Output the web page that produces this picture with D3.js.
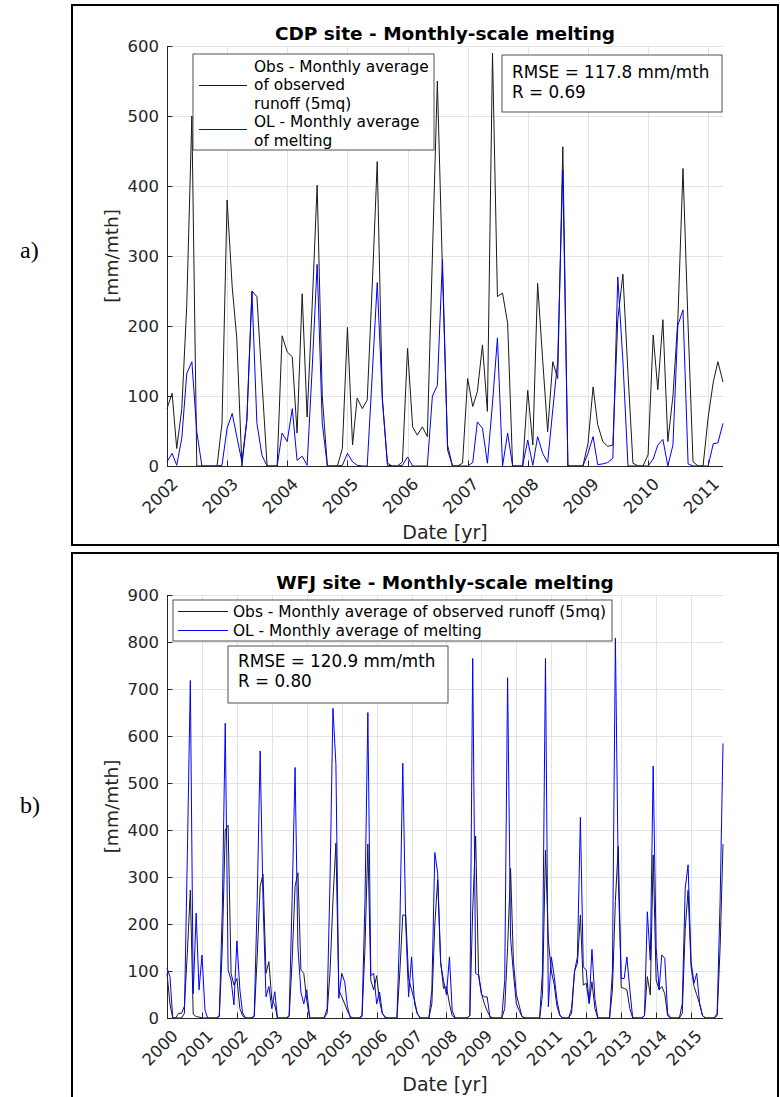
<!DOCTYPE html>
<html>
<head>
<meta charset="utf-8">
<script src="https://cdn.jsdelivr.net/npm/d3@7"></script>
<style>
  body { margin: 0; background: #fff; }
  svg text { font-family: "DejaVu Sans", sans-serif; fill: #262626; }
</style>
</head>
<body>
<svg id="fig" width="780" height="1097"></svg>
<script>
// ---- CDP site: monthly values, first month Jan 2002 (mm/mth) ----
const cdpStart = "2002-01";
const cdpObs = [
  82, 104, 25, 82, 230, 500, 0, 0, 0, 0, 0, 61,
  380, 256, 182, 0, 65, 250, 242, 120, 0, 0, 0, 186,
  163, 156, 47, 246, 70, 230, 401, 100, 0, 0, 0, 25,
  198, 30, 97, 82, 94, 260, 435, 94, 4, 0, 0, 6,
  168, 56, 44, 56, 42, 300, 550, 280, 30, 0, 0, 4,
  125, 85, 106, 173, 78, 590, 242, 247, 204, 0, 0, 0,
  108, 30, 261, 151, 49, 149, 125, 456, 0, 0, 0, 0,
  32, 113, 59, 35, 28, 30, 209, 274, 132, 4, 0, 0,
  16, 187, 109, 209, 35, 100, 210, 425, 200, 6, 0, 0,
  70, 120, 149, 120
];
const cdpOL = [
  6, 18, 1, 40, 132, 149, 49, 0, 0, 0, 0, 1,
  54, 75, 42, 6, 66, 249, 61, 15, 0, 0, 0, 47,
  35, 82, 8, 14, 1, 140, 288, 61, 0, 0, 0, 1,
  18, 6, 1, 0, 0, 132, 262, 97, 1, 0, 0, 1,
  13, 0, 0, 0, 0, 100, 115, 295, 23, 0, 0, 0,
  0, 5, 63, 54, 4, 90, 183, 0, 47, 0, 0, 0,
  37, 1, 42, 18, 5, 80, 150, 423, 0, 0, 0, 0,
  18, 42, 2, 3, 5, 11, 270, 150, 0, 0, 0, 0,
  0, 10, 30, 38, 0, 30, 201, 223, 3, 0, 0, 0,
  0, 32, 33, 61
];
const cdpYTicks = [0, 100, 200, 300, 400, 500, 600];
const cdpStats = ["RMSE = 117.8 mm/mth", "R = 0.69"];

// ---- WFJ site: monthly values, first month Jan 2000 (mm/mth) ----
const wfjStart = "2000-01";
const wfjObs = [
  95, 30, 0, 0, 10, 10, 25, 140, 272, 8, 3, 2,
  0, 0, 0, 0, 0, 0, 3, 150, 400, 410, 95, 70,
  84, 20, 5, 0, 0, 0, 3, 130, 280, 306, 95, 120,
  38, 28, 0, 0, 0, 0, 3, 120, 280, 309, 102, 95,
  38, 0, 0, 0, 0, 0, 0, 10, 100, 250, 372, 60,
  45, 30, 15, 3, 0, 0, 0, 3, 150, 370, 80, 60,
  90, 35, 10, 2, 0, 0, 0, 0, 100, 219, 219, 84,
  60, 38, 10, 0, 0, 0, 0, 30, 200, 294, 120, 63,
  67, 30, 5, 0, 0, 0, 0, 0, 5, 230, 387, 95,
  52, 30, 15, 3, 0, 0, 0, 0, 20, 150, 318, 120,
  50, 25, 3, 0, 0, 0, 0, 0, 0, 50, 357, 166,
  100, 70, 25, 5, 0, 0, 0, 10, 100, 116, 219, 70,
  74, 31, 77, 20, 0, 0, 0, 0, 0, 60, 250, 365,
  65, 63, 60, 20, 0, 0, 0, 0, 5, 88, 49, 347,
  81, 60, 67, 52, 5, 0, 0, 0, 0, 10, 190, 272,
  109, 67, 50, 30, 5, 0, 0, 0, 0, 5, 150, 370
];
const wfjOL = [
  106, 88, 0, 0, 0, 0, 10, 350, 718, 52, 223, 60,
  134, 17, 0, 0, 0, 0, 5, 230, 627, 102, 81, 28,
  164, 60, 11, 0, 0, 0, 5, 250, 568, 250, 45, 67,
  20, 56, 0, 0, 0, 0, 5, 250, 533, 150, 55, 30,
  60, 0, 0, 0, 0, 0, 0, 20, 300, 659, 540, 42,
  95, 77, 25, 0, 0, 0, 0, 5, 250, 650, 90, 95,
  30, 55, 10, 0, 0, 0, 0, 0, 200, 542, 200, 45,
  130, 30, 10, 0, 0, 0, 0, 60, 352, 308, 116, 80,
  49, 130, 15, 0, 0, 0, 0, 0, 5, 765, 95, 91,
  50, 45, 45, 0, 0, 0, 0, 0, 80, 724, 170, 95,
  30, 15, 3, 0, 0, 0, 0, 0, 0, 100, 765, 24,
  130, 88, 38, 6, 0, 0, 0, 20, 100, 130, 427, 109,
  102, 31, 146, 40, 0, 0, 0, 0, 0, 100, 808, 300,
  84, 84, 130, 60, 0, 0, 0, 0, 5, 226, 123, 536,
  150, 60, 134, 127, 10, 0, 0, 0, 0, 30, 276, 326,
  120, 74, 95, 30, 5, 0, 0, 0, 0, 10, 250, 584
];
const wfjYTicks = [0, 100, 200, 300, 400, 500, 600, 700, 800, 900];
const wfjStats = ["RMSE = 120.9 mm/mth", "R = 0.80"];

const AXIS = "#262626";
const GRID = "#e3e3e3";
const OBS_COLOR = "#1a1a1a";
const OL_COLOR = "#0000ff";

const svg = d3.select("#fig");
svg.append("rect").attr("width", 780).attr("height", 1097).attr("fill", "#fff");

const parseMonth = d3.timeParse("%Y-%m");

function series(start, values) {
  const t0 = parseMonth(start);
  return values.map((v, i) => ({ date: d3.timeMonth.offset(t0, i), v }));
}

function drawPanel(cfg) {
  const g = svg.append("g");

  // outer frame of the panel
  g.append("rect")
    .attr("x", 72).attr("y", cfg.frameTop)
    .attr("width", 706).attr("height", cfg.frameHeight)
    .attr("fill", "none").attr("stroke", "#000").attr("stroke-width", 2);

  // panel letter
  g.append("text")
    .attr("x", 20).attr("y", cfg.letterY)
    .style("font-family", "'Liberation Serif', 'Times New Roman', serif")
    .style("font-size", "24px").style("fill", "#000")
    .text(cfg.letter);

  const obs = series(cfg.start, cfg.obs);
  const ol = series(cfg.start, cfg.ol);
  const left = 167, right = 723;

  const x = d3.scaleTime()
    .domain([obs[0].date, obs[obs.length - 1].date])
    .range([left, right]);
  const y = d3.scaleLinear()
    .domain([0, cfg.yTicks[cfg.yTicks.length - 1]])
    .range([cfg.bottom, cfg.top]);

  const years = x.ticks(d3.timeYear.every(1));

  // grid
  const grid = g.append("g").attr("stroke", GRID).attr("stroke-width", 1);
  grid.selectAll("line.h").data(cfg.yTicks).join("line")
    .attr("x1", left).attr("x2", right)
    .attr("y1", d => Math.round(y(d)) + 0.5).attr("y2", d => Math.round(y(d)) + 0.5);
  grid.selectAll("line.v").data(years).join("line")
    .attr("x1", d => Math.round(x(d)) + 0.5).attr("x2", d => Math.round(x(d)) + 0.5)
    .attr("y1", cfg.top).attr("y2", cfg.bottom);

  // data lines
  const line = d3.line().x(d => x(d.date)).y(d => y(d.v));
  g.append("path").datum(obs).attr("d", line)
    .attr("fill", "none").attr("stroke", OBS_COLOR).attr("stroke-width", 1);
  g.append("path").datum(ol).attr("d", line)
    .attr("fill", "none").attr("stroke", OL_COLOR).attr("stroke-width", 1);

  // axes (left and bottom only, ticks pointing inward)
  const ax = g.append("g").attr("stroke", AXIS).attr("stroke-width", 1);
  ax.append("line").attr("x1", left + 0.5).attr("x2", left + 0.5)
    .attr("y1", cfg.top).attr("y2", cfg.bottom + 0.5);
  ax.append("line").attr("x1", left).attr("x2", right)
    .attr("y1", cfg.bottom + 0.5).attr("y2", cfg.bottom + 0.5);
  ax.selectAll("line.yt").data(cfg.yTicks).join("line")
    .attr("x1", left).attr("x2", left + 5.5)
    .attr("y1", d => Math.round(y(d)) + 0.5).attr("y2", d => Math.round(y(d)) + 0.5);
  ax.selectAll("line.xt").data(years).join("line")
    .attr("x1", d => Math.round(x(d)) + 0.5).attr("x2", d => Math.round(x(d)) + 0.5)
    .attr("y1", cfg.bottom).attr("y2", cfg.bottom - 5.5);

  // tick labels
  g.selectAll("text.yl").data(cfg.yTicks).join("text")
    .attr("x", left - 8).attr("y", d => y(d)).attr("dy", "0.36em")
    .attr("text-anchor", "end").style("font-size", "16.5px")
    .text(d => d);
  const fmt = d3.timeFormat("%Y");
  g.selectAll("text.xl").data(years).join("text")
    .attr("text-anchor", "end").style("font-size", "16.5px")
    .attr("transform", d => `translate(${x(d) + 12},${cfg.bottom + 19}) rotate(-45)`)
    .text(d => fmt(d));

  // titles and axis labels
  g.append("text").attr("x", (left + right) / 2).attr("y", cfg.top - 6)
    .attr("text-anchor", "middle")
    .style("font-size", "18.5px").style("font-weight", "bold").style("fill", "#000")
    .text(cfg.title);
  g.append("text").attr("x", (left + right) / 2).attr("y", cfg.bottom + 73)
    .attr("text-anchor", "middle").style("font-size", "19px")
    .text("Date [yr]");
  g.append("text")
    .attr("transform", `translate(118,${(cfg.top + cfg.bottom) / 2}) rotate(-90)`)
    .attr("text-anchor", "middle").style("font-size", "18.5px")
    .text("[mm/mth]");

  // legend
  const lg = cfg.legend;
  g.append("rect").attr("x", lg.x).attr("y", lg.y).attr("width", lg.w).attr("height", lg.h)
    .attr("fill", "#fff").attr("stroke", AXIS).attr("stroke-width", 0.8);
  lg.entries.forEach(e => {
    g.append("line").attr("x1", lg.sampleX0).attr("x2", lg.sampleX1)
      .attr("y1", e.sampleY).attr("y2", e.sampleY)
      .attr("stroke", e.color).attr("stroke-width", 1.2);
    e.lines.forEach((t, j) => {
      g.append("text").attr("x", lg.textX).attr("y", e.firstY + j * lg.lineGap)
        .attr("dy", "0.36em").style("font-size", "15.4px").style("fill", "#000").text(t);
    });
  });

  // statistics box
  const sb = cfg.statsBox;
  g.append("rect").attr("x", sb.x).attr("y", sb.y).attr("width", sb.w).attr("height", sb.h)
    .attr("fill", "#fff").attr("stroke", AXIS).attr("stroke-width", 0.8);
  cfg.stats.forEach((t, j) => {
    g.append("text").attr("x", sb.x + 10).attr("y", sb.firstY + j * sb.lineGap)
      .attr("dy", "0.36em").style("font-size", "16.8px").style("fill", "#000").text(t);
  });
}

drawPanel({
  letter: "a)", letterY: 258,
  frameTop: 5, frameHeight: 540,
  top: 46, bottom: 466,
  start: cdpStart, obs: cdpObs, ol: cdpOL, yTicks: cdpYTicks,
  title: "CDP site - Monthly-scale melting",
  legend: {
    x: 193, y: 54, w: 241, h: 96, sampleX0: 199, sampleX1: 247, textX: 254, lineGap: 18.5,
    entries: [
      { color: OBS_COLOR, sampleY: 85.5, firstY: 66, lines: ["Obs - Monthly average", "of observed", "runoff (5mq)"] },
      { color: OL_COLOR, sampleY: 129.5, firstY: 121.5, lines: ["OL - Monthly average", "of melting"] }
    ]
  },
  statsBox: { x: 502, y: 55, w: 220, h: 57, firstY: 72, lineGap: 20 },
  stats: cdpStats
});

drawPanel({
  letter: "b)", letterY: 813,
  frameTop: 553, frameHeight: 560,
  top: 595, bottom: 1018,
  start: wfjStart, obs: wfjObs, ol: wfjOL, yTicks: wfjYTicks,
  title: "WFJ site - Monthly-scale melting",
  legend: {
    x: 173, y: 600, w: 439, h: 41, sampleX0: 178, sampleX1: 228, textX: 233, lineGap: 18.5,
    entries: [
      { color: OBS_COLOR, sampleY: 611.5, firstY: 611.5, lines: ["Obs - Monthly average of observed runoff (5mq)"] },
      { color: OL_COLOR, sampleY: 630.5, firstY: 630, lines: ["OL - Monthly average of melting"] }
    ]
  },
  statsBox: { x: 228, y: 646, w: 220, h: 57, firstY: 661, lineGap: 19.5 },
  stats: wfjStats
});
</script>
</body>
</html>
